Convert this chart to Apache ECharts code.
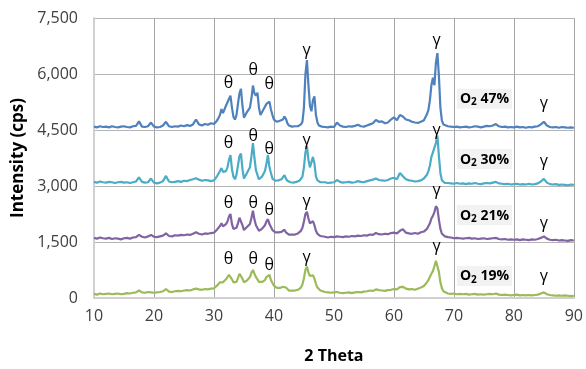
<!DOCTYPE html>
<html>
<head>
<meta charset="utf-8">
<script src="https://cdn.jsdelivr.net/npm/echarts@6/dist/echarts.min.js"></script>
<style>
  html, body { margin: 0; padding: 0; background: #fff; }
  #chart { width: 586px; height: 369px; }
</style>
</head>
<body>
<div id="chart"></div>
<script>
// 2-theta positions shared by all four scans
const twoTheta = [
  10, 10.5, 11, 11.5, 12, 12.5, 13, 13.5, 14, 14.5, 15, 15.5, 16, 16.5, 17, 17.5, 18, 18.5, 19, 19.5,
  20, 20.5, 21, 21.5, 22, 22.5, 23, 23.5, 24, 24.5, 25, 25.5, 26, 26.5, 27, 27.5, 28, 28.5, 29, 29.5,
  30, 30.25, 30.5, 30.75, 31, 31.25, 31.5, 31.75, 32, 32.25, 32.5, 32.75, 33, 33.25, 33.5, 33.75,
  34, 34.25, 34.5, 34.75, 35, 35.25, 35.5, 35.75, 36, 36.25, 36.5, 36.75, 37, 37.25, 37.5, 37.75,
  38, 38.25, 38.5, 38.75, 39, 39.25, 39.5, 39.75, 40, 40.25, 40.5, 40.75, 41, 41.25, 41.5, 41.75,
  42, 42.25, 42.5, 42.75, 43, 43.25, 43.5, 43.75, 44, 44.25, 44.5, 44.75, 45, 45.25, 45.5, 45.75,
  46, 46.25, 46.5, 46.75, 47, 47.25, 47.5, 47.75,
  48, 48.5, 49, 49.5, 50, 50.5, 51, 51.5, 52, 52.5, 53, 53.5, 54, 54.5, 55, 55.5, 56, 56.5, 57, 57.5,
  58, 58.5, 59, 59.5, 60, 60.5, 61, 61.5, 62, 62.5, 63, 63.5, 64, 64.5, 65, 65.5,
  65.75, 66, 66.25, 66.5, 66.75, 67, 67.25, 67.5, 67.75, 68, 68.25, 68.5,
  69, 69.5, 70, 70.5, 71, 71.5, 72, 72.5, 73, 73.5, 74, 74.5, 75, 75.5, 76, 76.5, 77, 77.5, 78, 78.5,
  79, 79.5, 80, 80.5, 81, 81.5, 82, 82.5, 83, 83.5, 84, 84.5, 85, 85.5, 86, 86.5, 87, 87.5, 88, 88.5,
  89, 89.5, 90
];

const o2_47 = [
  4590, 4570, 4600, 4580, 4590, 4570, 4600, 4580, 4570, 4590, 4600, 4580, 4570, 4600, 4610, 4730, 4590, 4580, 4600, 4700,
  4590, 4570, 4580, 4620, 4720, 4600, 4580, 4600, 4590, 4620, 4600, 4630, 4610, 4650, 4780, 4650, 4620, 4660, 4640, 4680,
  4660, 4700, 4750, 4820, 4900, 5060, 4950, 5000, 5150, 5180, 5330, 5420, 5100, 4850, 4780, 4900,
  5200, 5480, 5600, 5150, 4830, 4880, 4980, 5000, 5100, 5350, 5690, 5480, 5420, 5500, 5100, 4900,
  4950, 5050, 5000, 5200, 5240, 5260, 5050, 4900, 4780, 4760, 4720, 4700, 4750, 4720, 4780, 4860,
  4800, 4680, 4620, 4600, 4590, 4580, 4600, 4590, 4600, 4620, 4650, 4720, 5100, 6000, 6370, 5700,
  5150, 5000, 5300, 5400, 4900, 4700, 4620, 4600,
  4590, 4580, 4570, 4590, 4580, 4700, 4620, 4590, 4580, 4600, 4590, 4610, 4640, 4600, 4590, 4620, 4650, 4680, 4770, 4720,
  4730, 4680, 4700, 4780, 4840, 4760, 4900, 4860, 4780, 4760, 4720, 4700, 4690, 4720, 4760, 4920,
  5040, 5300, 5700, 5900, 5700, 6300, 6560, 5950, 5100, 4750, 4650, 4620,
  4600, 4590, 4580, 4590, 4570, 4580, 4590, 4570, 4580, 4600, 4590, 4570, 4590, 4610, 4600, 4620, 4660, 4600, 4580, 4590,
  4570, 4580, 4570, 4590, 4570, 4580, 4560, 4580, 4570, 4590, 4600, 4650, 4720, 4620, 4580, 4570, 4580, 4560, 4580, 4570,
  4560, 4570, 4560
];

const o2_30 = [
  3110, 3090, 3120, 3100, 3090, 3110, 3100, 3080, 3100, 3110, 3090, 3100, 3080, 3100, 3120, 3230, 3110, 3090, 3100, 3200,
  3090, 3070, 3090, 3130, 3270, 3120, 3100, 3110, 3130, 3110, 3140, 3130, 3160, 3180, 3210, 3170, 3140, 3160, 3150, 3130,
  3150, 3200, 3260, 3330, 3400, 3480, 3380, 3420, 3400, 3500, 3700, 3830, 3450, 3250, 3180, 3300,
  3550, 3800, 3870, 3450, 3200, 3250, 3350, 3380, 3500, 3800, 4150, 3750, 3420, 3300, 3180, 3150,
  3250, 3300, 3400, 3600, 3830, 3500, 3350, 3200, 3150, 3140, 3130, 3150, 3140, 3180, 3220, 3290,
  3200, 3140, 3110, 3100, 3110, 3090, 3100, 3110, 3120, 3140, 3180, 3250, 3500, 3900, 4070, 3700,
  3500, 3450, 3780, 3600, 3250, 3150, 3110, 3100,
  3090, 3100, 3080, 3090, 3100, 3160, 3110, 3090, 3100, 3110, 3090, 3100, 3130, 3110, 3100, 3130, 3150, 3170, 3200, 3160,
  3150, 3140, 3160, 3200, 3220, 3180, 3350, 3260, 3180, 3150, 3140, 3120, 3130, 3150, 3200, 3300,
  3400, 3550, 3780, 3900, 3850, 4150, 4350, 3800, 3350, 3150, 3100, 3080,
  3080, 3070, 3060, 3080, 3060, 3070, 3050, 3070, 3060, 3080, 3060, 3050, 3070, 3080, 3070, 3090, 3110, 3070, 3060, 3050,
  3060, 3040, 3050, 3060, 3040, 3050, 3040, 3060, 3040, 3050, 3070, 3120, 3190, 3090, 3050, 3040, 3050, 3030, 3040, 3030,
  3020, 3040, 3030
];

const o2_21 = [
  1610, 1590, 1620, 1600, 1590, 1610, 1580, 1600, 1590, 1570, 1600, 1610, 1590, 1620, 1630, 1690, 1640, 1620, 1650, 1690,
  1640, 1630, 1650, 1670, 1730, 1660, 1650, 1680, 1670, 1690, 1680, 1700, 1690, 1720, 1760, 1720, 1700, 1730, 1720, 1740,
  1750, 1780, 1830, 1880, 1930, 2000, 1920, 1960, 1980, 2050, 2180, 2250, 1980, 1850, 1800, 1880,
  2000, 2150, 2180, 1950, 1820, 1850, 1900, 1920, 1980, 2150, 2340, 2100, 1950, 1900, 1800, 1790,
  1850, 1880, 1950, 2050, 2110, 1980, 1900, 1820, 1780, 1760, 1740, 1760, 1750, 1770, 1800, 1830,
  1760, 1720, 1700, 1690, 1700, 1680, 1700, 1720, 1730, 1760, 1800, 1880, 2050, 2250, 2310, 2130,
  2000, 2050, 2060, 1950, 1800, 1720, 1680, 1660,
  1650, 1640, 1620, 1640, 1630, 1650, 1640, 1630, 1650, 1640, 1660, 1650, 1670, 1660, 1680, 1670, 1700, 1690, 1740, 1710,
  1700, 1720, 1710, 1740, 1750, 1730, 1800, 1840, 1750, 1730, 1720, 1740, 1720, 1760, 1780, 1850,
  1900, 2000, 2130, 2200, 2300, 2460, 2400, 2100, 1850, 1720, 1680, 1650,
  1630, 1620, 1600, 1610, 1600, 1590, 1600, 1610, 1590, 1600, 1580, 1590, 1600, 1580, 1590, 1600, 1610, 1580, 1570, 1580,
  1560, 1570, 1560, 1570, 1550, 1570, 1560, 1550, 1570, 1560, 1580, 1610, 1650, 1590, 1560, 1550, 1560, 1540, 1550, 1540,
  1530, 1550, 1540
];

const o2_19 = [
  110, 90, 120, 100, 110, 120, 100, 110, 120, 100, 110, 130, 120, 140, 150, 200, 150, 140, 160, 150,
  140, 150, 160, 180, 240, 170, 160, 180, 190, 180, 200, 210, 200, 230, 250, 230, 220, 240, 230, 250,
  260, 290, 330, 380, 420, 440, 420, 470, 500, 560, 620, 640, 500, 420, 390, 430,
  530, 650, 680, 520, 420, 440, 470, 500, 560, 680, 750, 650, 560, 500, 430, 400,
  430, 450, 480, 560, 600, 620, 480, 400, 330, 300, 270, 250, 270, 290, 300, 320,
  280, 230, 200, 190, 200, 190, 200, 210, 220, 240, 280, 360, 530, 760, 840, 680,
  590, 600, 610, 520, 380, 280, 230, 200,
  180, 160, 150, 140, 150, 160, 140, 130, 140, 150, 130, 150, 160, 150, 170, 180, 200, 190, 230, 210,
  200, 190, 210, 220, 240, 230, 290, 300, 250, 230, 240, 220, 250, 280, 320, 420,
  480, 570, 650, 720, 850, 1000, 960, 700, 420, 260, 180, 140,
  120, 110, 120, 100, 110, 100, 110, 90, 100, 110, 90, 100, 90, 100, 110, 100, 120, 90, 80, 90,
  80, 70, 80, 90, 70, 80, 70, 80, 70, 80, 90, 120, 150, 100, 80, 70, 60, 70, 60, 70,
  60, 50, 60
];

const seriesNames = ['O2 19%', 'O2 21%', 'O2 30%', 'O2 47%'];
const seriesValues = [o2_19, o2_21, o2_30, o2_47];
const seriesColors = ['#9bbb59', '#8064a2', '#4bacc6', '#4f81bd'];
const sampleLabels = ['19%', '21%', '30%', '47%'];

// peak labels per scan: [2theta, intensity, text]
const peakLabels = [
  [[32.4, 1040, 'θ'], [36.55, 1040, 'θ'], [39.2, 860, 'θ'], [45.45, 1090, 'γ'], [67.1, 1390, 'γ'], [85, 570, 'γ']],
  [[32.4, 2540, 'θ'], [36.55, 2540, 'θ'], [39.2, 2340, 'θ'], [45.45, 2580, 'γ'], [67.1, 2890, 'γ'], [85, 2000, 'γ']],
  [[32.4, 4140, 'θ'], [36.55, 4320, 'θ'], [39.2, 3980, 'θ'], [45.45, 4230, 'γ'], [67.1, 4500, 'γ'], [85, 3650, 'γ']],
  [[32.4, 5750, 'θ'], [36.55, 6090, 'θ'], [39.2, 5720, 'θ'], [45.45, 6640, 'γ'], [67.1, 6890, 'γ'], [85, 5220, 'γ']]
];
const sampleLabelPos = [[75.1, 590], [75.1, 2220], [75.1, 3720], [75.1, 5340]];

const chart = echarts.init(document.getElementById('chart'));

const option = {
  animation: false,
  backgroundColor: '#ffffff',
  grid: { left: 94, right: 12, top: 18, bottom: 71 },
  xAxis: {
    type: 'value',
    min: 10,
    max: 90,
    interval: 10,
    name: '2 Theta',
    nameLocation: 'middle',
    nameGap: 50,
    nameTextStyle: { fontFamily: 'Open Sans', fontSize: 16, fontWeight: 'bold', color: '#000' },
    axisLine: { lineStyle: { color: '#d0d0d0', width: 2 } },
    axisTick: { show: false },
    axisLabel: { fontFamily: 'Open Sans', fontSize: 16, color: '#404040', margin: 10 },
    splitLine: { lineStyle: { color: '#a6a6a6', width: 1 } }
  },
  yAxis: {
    type: 'value',
    min: 0,
    max: 7500,
    interval: 1500,
    name: 'Intensity (cps)',
    nameLocation: 'middle',
    nameGap: 66,
    nameTextStyle: { fontFamily: 'Open Sans', fontSize: 17, fontWeight: 'bold', color: '#000' },
    axisLine: { show: true, lineStyle: { color: '#d0d0d0', width: 2 } },
    axisTick: { show: false },
    axisLabel: {
      fontFamily: 'Open Sans', fontSize: 16, color: '#404040', margin: 16,
      formatter: (v) => v.toLocaleString('en-US')
    },
    splitLine: { lineStyle: { color: '#b4b4b4', width: 1 } }
  },
  series: seriesNames.map((name, i) => ({
    name: name,
    type: 'line',
    showSymbol: false,
    symbol: 'none',
    lineStyle: { color: seriesColors[i], width: 2.2 },
    data: twoTheta.map((t, k) => [t, seriesValues[i][k]]),
    markPoint: {
      symbol: 'circle',
      symbolSize: 1,
      itemStyle: { color: 'rgba(0,0,0,0)' },
      label: { show: true, position: 'inside', formatter: '{b}', color: '#000', fontFamily: 'Open Sans', fontSize: 16 },
      data: peakLabels[i].map((p) => ({ name: p[2], coord: [p[0], p[1]] })).concat([{
        name: sampleLabels[i],
        coord: sampleLabelPos[i],
        label: {
          formatter: '{a|O}{s|2}{a| ' + sampleLabels[i] + '}',
          backgroundColor: '#f2f2f2',
          padding: [2, 3, 1, 3],
          rich: {
            a: { fontFamily: 'Open Sans', fontSize: 14, fontWeight: 'bold', color: '#000', lineHeight: 17 },
            s: { fontFamily: 'Open Sans', fontSize: 10, fontWeight: 'bold', color: '#000', lineHeight: 17, padding: [7, 0, 0, 0] }
          }
        }
      }])
    }
  }))
};

chart.setOption(option);
</script>
</body>
</html>
